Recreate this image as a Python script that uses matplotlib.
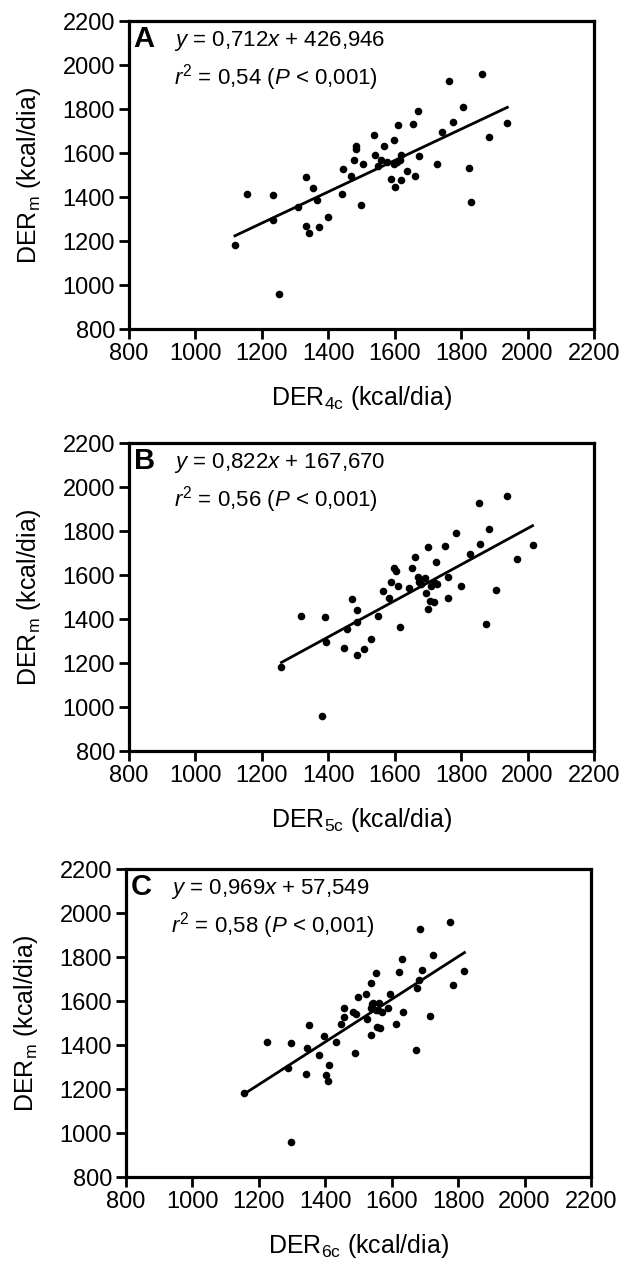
import matplotlib
matplotlib.use('Agg')
import matplotlib.pyplot as plt
import numpy as np

plt.rcParams['font.family'] = ['Liberation Sans', 'DejaVu Sans']
plt.rcParams['mathtext.fontset'] = 'custom'
plt.rcParams['mathtext.rm'] = 'Liberation Sans'
plt.rcParams['mathtext.it'] = 'Liberation Sans:italic'
plt.rcParams['mathtext.bf'] = 'Liberation Sans:bold'

# measured energy requirement (same subjects in every panel)
der_m = [1183, 1415, 1409, 1296, 961, 1353, 1491, 1270, 1236, 1442,
         1385, 1262, 1311, 1415, 1529, 1494, 1570, 1632, 1620, 1362,
         1549, 1682, 1592, 1541, 1567, 1630, 1559, 1483, 1658, 1549,
         1446, 1559, 1726, 1567, 1479, 1589, 1520, 1730, 1497, 1789,
         1586, 1550, 1696, 1929, 1739, 1809, 1533, 1379, 1959, 1674,
         1735]

# 4-compartment model
der_4c = [1119, 1155, 1233, 1233, 1252, 1308, 1334, 1334, 1341, 1354,
          1367, 1372, 1399, 1440, 1445, 1468, 1476, 1484, 1484, 1497,
          1505, 1539, 1542, 1550, 1559, 1567, 1577, 1590, 1598, 1598,
          1602, 1606, 1610, 1616, 1618, 1620, 1638, 1656, 1661, 1671,
          1673, 1727, 1743, 1763, 1774, 1805, 1823, 1831, 1862, 1885,
          1939]

# 5-compartment model
der_5c = [1259, 1317, 1391, 1394, 1380, 1455, 1471, 1448, 1486, 1486,
          1486, 1507, 1529, 1549, 1566, 1583, 1590, 1598, 1603, 1616,
          1610, 1660, 1671, 1642, 1673, 1652, 1680, 1706, 1723, 1708,
          1699, 1726, 1701, 1719, 1717, 1760, 1694, 1750, 1760, 1785,
          1690, 1799, 1826, 1854, 1856, 1885, 1905, 1876, 1938, 1967,
          2015]

# 6-compartment model
der_6c = [1155, 1224, 1298, 1288, 1298, 1380, 1352, 1343, 1409, 1396,
          1344, 1402, 1412, 1431, 1456, 1448, 1455, 1524, 1497, 1490,
          1482, 1537, 1545, 1492, 1539, 1596, 1559, 1556, 1677, 1634,
          1539, 1552, 1553, 1589, 1564, 1562, 1527, 1622, 1612, 1632,
          1542, 1570, 1683, 1686, 1691, 1724, 1716, 1672, 1775, 1785,
          1819]

panels = ['A', 'B', 'C']
subs = ['4c', '5c', '6c']
slopes = [0.712, 0.822, 0.969]
intercepts = [426.946, 167.670, 57.549]
eq_txt = ['0,712', '0,822', '0,969']
int_txt = ['426,946', '167,670', '57,549']
r2_txt = ['0,54', '0,56', '0,58']
xdata = [der_4c, der_5c, der_6c]

W, H = 624, 1272
fig = plt.figure(figsize=(W / 100, H / 100), dpi=100)

# axes boxes in pixels: left, top, right, bottom
boxes = [(129, 21, 594, 329), (129, 443, 594, 751), (126, 869, 591, 1177)]

for i in range(3):
    l, t, r, b = boxes[i]
    ax = fig.add_axes([l / W, 1 - b / H, (r - l) / W, (b - t) / H])
    x = np.array(xdata[i])
    ax.scatter(x, der_m, s=30, color='black', zorder=3, linewidths=0)
    xl = np.array([x.min(), x.max()])
    ax.plot(xl, slopes[i] * xl + intercepts[i], color='black', lw=2)

    ax.set_xlim(800, 2200)
    ax.set_ylim(800, 2200)
    ax.set_xticks(range(800, 2201, 200))
    ax.set_yticks(range(800, 2201, 200))
    for sp in ax.spines.values():
        sp.set_linewidth(2.3)
    ax.tick_params(direction='out', length=7, width=2, labelsize=17, pad=3)

    ax.set_xlabel('DER$_{\\mathrm{' + subs[i] + '}}$ (kcal/dia)', fontsize=18, labelpad=14)
    ax.set_ylabel('DER$_{\\mathrm{m}}$ (kcal/dia)', fontsize=18, labelpad=14)

    ax.text(0.010, 0.988, panels[i], transform=ax.transAxes, fontsize=21,
            fontweight='bold', va='top', ha='left')
    ax.text(0.097, 0.975, '$y$ = ' + eq_txt[i] + '$x$ + ' + int_txt[i],
            transform=ax.transAxes, fontsize=16, va='top', ha='left')
    ax.text(0.097, 0.868, '$r^2$ = ' + r2_txt[i] + ' ($P$ < 0,001)',
            transform=ax.transAxes, fontsize=16, va='top', ha='left')

fig.savefig('out.png', dpi=100, facecolor='white')
